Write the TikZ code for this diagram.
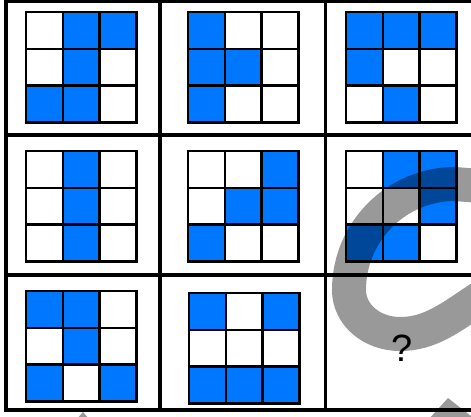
\documentclass[tikz,border=0pt]{standalone}
\usepackage{fontspec}
\setmainfont{Liberation Sans}
\definecolor{cellblue}{RGB}{0,119,255}
\tikzset{
  frameline/.style={line width=3.5pt, black},
  gridline/.style={line width=2.6pt, black},
  wm/.style={line width=34pt, black, opacity=0.4},
  wmfill/.style={fill=black, opacity=0.4},
}
\newcommand\puzzlegrid[4]{%
  \foreach \v [count=\i from 0] in {#4} {
    \pgfmathtruncatemacro\cc{mod(\i,3)}
    \pgfmathtruncatemacro\rr{int(\i/3)}
    \ifnum\v=1
      \fill[cellblue] ({#1+\cc*#3/3},{#2+\rr*#3/3}) rectangle ++({#3/3},{#3/3});
    \fi
  }
  \foreach \k in {1,2} {
    \draw[gridline] ({#1+\k*#3/3},#2) -- ++(0,#3);
    \draw[gridline] (#1,{#2+\k*#3/3}) -- ++(#3,0);
  }
  \draw[gridline] (#1,#2) rectangle ++(#3,#3);
}
\begin{document}
\begin{tikzpicture}[x=1pt,y=-1pt]
\useasboundingbox (0,0) rectangle (471,416);
\clip (0,0) rectangle (471,416);
\fill[white] (0,0) rectangle (471,416);
% puzzle grids
\puzzlegrid{26}{12}{110.5}{0,1,1,0,1,0,1,1,0}
\puzzlegrid{188}{12}{110.5}{1,0,0,1,1,0,1,0,0}
\puzzlegrid{346}{12}{110.5}{1,1,1,1,0,0,0,1,0}
\puzzlegrid{26}{151}{110.5}{0,1,0,0,1,0,0,1,0}
\puzzlegrid{188}{151}{110.5}{0,0,1,0,1,1,1,0,0}
\puzzlegrid{346}{151}{110.5}{0,1,1,0,0,1,1,1,0}
\puzzlegrid{26}{291}{110.5}{1,1,0,0,1,0,1,0,1}
\puzzlegrid{189}{293}{110.5}{1,0,1,0,0,0,1,1,1}
% watermark
\draw[wm] (480,186) -- (455,184) .. controls (396.5,184) and (349,231.5) .. (349,290)
  .. controls (349,315) and (372,334) .. (400,334)
  .. controls (430,334) and (450,318) .. (480,298);
\fill[wmfill] (428,420) -- (448,398) -- (476,420) -- cycle;
\fill[wmfill] (76,420) -- (83,412) -- (90,420) -- cycle;
% frame
\draw[frameline, line join=miter] (6,410) -- (6,1.5) -- (480,1.5);
\draw[frameline] (160,1.5) -- (160,410);
\draw[frameline] (325.5,1.5) -- (325.5,410);
\draw[frameline] (6,135) -- (480,135);
\draw[frameline] (6,275) -- (480,275);
\draw[frameline] (4.25,410) -- (480,410);
% question mark
\node[font=\fontsize{38}{40}\selectfont, inner sep=0pt] (q) at (402,348) {?};
\end{tikzpicture}
\end{document}
